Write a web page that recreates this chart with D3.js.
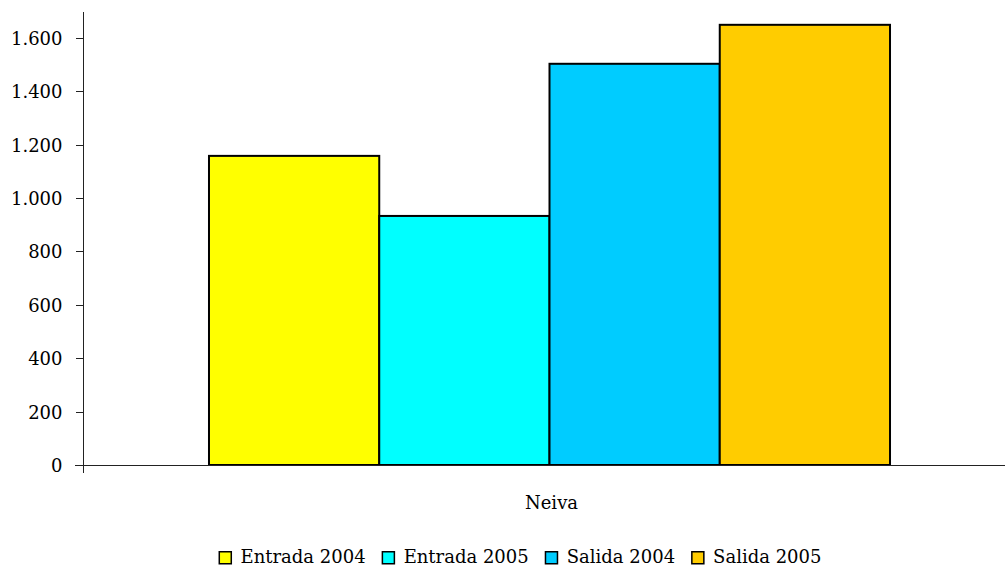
<!DOCTYPE html>
<html><head><meta charset="utf-8">
<script src="https://cdn.jsdelivr.net/npm/d3@7"></script>
<style>body{margin:0;background:#fff}svg{display:block}text{font-family:"DejaVu Serif",serif;fill:#000}</style>
</head><body><svg id="c" width="1005" height="566"></svg>
<script>
const categories = ["Neiva"];
const seriesNames = ["Entrada 2004", "Entrada 2005", "Salida 2004", "Salida 2005"];
const seriesValues = [1158, 933, 1503, 1649];
const seriesColors = ["#ffff00", "#00ffff", "#00ccff", "#ffcc00"];
const yTicks = [0, 200, 400, 600, 800, 1000, 1200, 1400, 1600];

(function () {
const svg = d3.select("#c");
const FONT = "DejaVu Serif", FS = "18px";
const mLeft = 83, mRight = 1016, mTop = 12, mBottom = 465;
const y = d3.scaleLinear().domain([0, 1697]).range([mBottom, mTop]);
const x0 = d3.scaleBand().domain(categories).range([mLeft, mRight]).paddingOuter(0.185).paddingInner(0);
const x1 = d3.scaleBand().domain(seriesNames).range([0, x0.bandwidth()]).padding(0);
const fmt = v => d3.format(",")(v).replace(/,/g, ".");

const g = svg.append("g");
categories.forEach(cat => {
  seriesNames.forEach((s, i) => {
    g.append("rect")
      .attr("x", x0(cat) + x1(s))
      .attr("y", y(seriesValues[i]))
      .attr("width", x1.bandwidth())
      .attr("height", y(0) - y(seriesValues[i]))
      .attr("fill", seriesColors[i])
      .attr("stroke", "#000").attr("stroke-width", 2);
  });
});

const ya = svg.append("g").attr("transform", `translate(${mLeft + 0.5},0)`)
  .call(d3.axisLeft(y).tickValues(yTicks).tickSize(8).tickPadding(13).tickFormat(fmt));
ya.select(".domain").remove();
ya.selectAll("line").attr("stroke", "#222").attr("shape-rendering", "crispEdges");
ya.selectAll("text").style("font-size", FS).style("font-family", FONT).attr("dy", "0.36em");
svg.append("line").attr("x1", mLeft + 0.5).attr("x2", mLeft + 0.5).attr("y1", mTop).attr("y2", mBottom + 8)
  .attr("stroke", "#222").attr("shape-rendering", "crispEdges");
svg.append("line").attr("x1", mLeft - 8).attr("x2", 1005).attr("y1", mBottom + 0.5).attr("y2", mBottom + 0.5)
  .attr("stroke", "#222").attr("shape-rendering", "crispEdges");
categories.forEach(cat => {
  svg.append("text").attr("x", x0(cat) + x0.bandwidth() / 2 + 2).attr("y", 509)
    .attr("text-anchor", "middle").style("font-size", FS).style("font-family", FONT).text(cat);
});

const lg = svg.append("g");
let cx = 0;
seriesNames.forEach((s, i) => {
  const it = lg.append("g").attr("transform", `translate(${cx},0)`);
  it.append("rect").attr("x", 0.75).attr("y", -11.25).attr("width", 12).attr("height", 12)
    .attr("fill", seriesColors[i]).attr("stroke", "#000").attr("stroke-width", 1.5);
  const t = it.append("text").attr("x", 22).attr("y", 0).style("font-size", FS).style("font-family", FONT).text(s);
  cx += 22 + t.node().getComputedTextLength() + 16;
});
const lw = cx - 16;
lg.attr("transform", `translate(${520 - lw / 2},563)`);
})();
</script></body></html>
